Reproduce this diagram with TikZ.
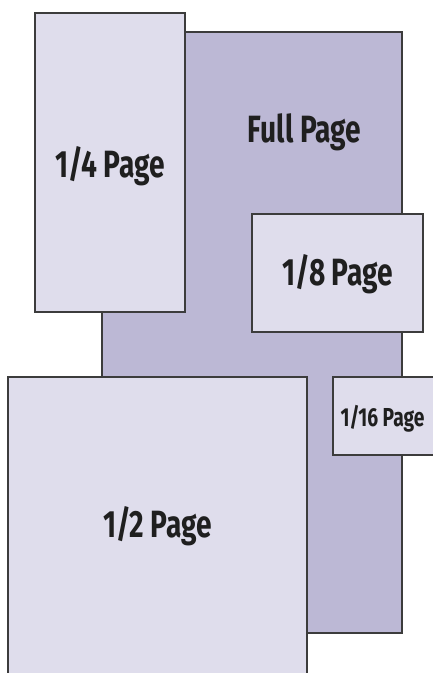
\documentclass[tikz,border=0pt]{standalone}
\usepackage{fontspec}
\newfontfamily\lblfont{Fira Sans}[FakeStretch=0.74]
\definecolor{pagelight}{HTML}{DFDDEC}
\definecolor{pagedark}{HTML}{BCB8D5}
\definecolor{pageline}{HTML}{3C3C3C}
\tikzset{
  pagebox/.style={draw=pageline, line width=2.2pt, rectangle, inner sep=0pt},
  lightbox/.style={pagebox, fill=pagelight},
  darkbox/.style={pagebox, fill=pagedark},
  biglabel/.style={anchor=base, inner sep=0pt, text=black!88, font=\lblfont\fontsize{38}{38}\selectfont\bfseries},
  smalllabel/.style={anchor=base, inner sep=0pt, text=black!88, font=\lblfont\fontsize{26}{26}\selectfont\bfseries}
}
\begin{document}
\begin{tikzpicture}[x=1pt,y=-1pt]
\useasboundingbox (0,0) rectangle (433,673);
\clip (0,0) rectangle (433,673);
\fill[white] (0,0) rectangle (433,673);
% Full page
\node[darkbox, minimum width=300pt, minimum height=601pt] (full) at (252,332.5) {};
\node[biglabel] (fulltxt) at (304.5,142) {Full Page};
% 1/4 page
\node[lightbox, minimum width=150pt, minimum height=299pt] (quarter) at (110,162.5) {};
\node[biglabel] (quartertxt) at (110,177) {1/4 Page};
% 1/8 page
\node[lightbox, minimum width=171pt, minimum height=118pt] (eighth) at (337.5,273) {};
\node[biglabel] (eighthtxt) at (337.5,285) {1/8 Page};
% 1/16 page
\node[lightbox, minimum width=107pt, minimum height=78pt] (sixteenth) at (386.5,416) {};
\node[smalllabel] (sixteenthtxt) at (382.5,426) {1/16 Page};
% 1/2 page
\node[lightbox, minimum width=299pt, minimum height=313pt] (half) at (157.5,533.5) {};
\node[biglabel] (halftxt) at (157.5,537) {1/2 Page};
\end{tikzpicture}
\end{document}
